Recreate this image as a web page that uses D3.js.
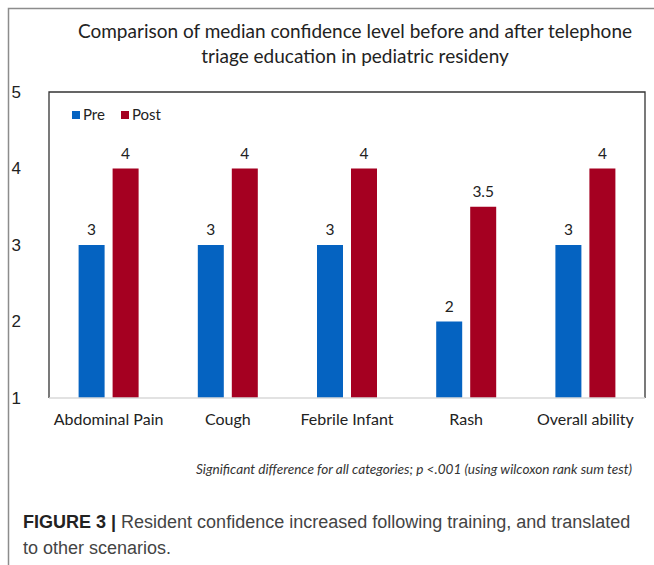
<!DOCTYPE html>
<html>
<head>
<meta charset="utf-8">
<script src="https://cdn.jsdelivr.net/npm/d3@7"></script>
<style>
  body { margin: 0; background: #fff; }
  svg { display: block; }
</style>
</head>
<body>
<svg id="chart" width="654" height="565"></svg>
<script>
// data
const categories = ['Abdominal Pain', 'Cough', 'Febrile Infant', 'Rash', 'Overall ability'];
const series = ['Pre', 'Post'];
const pre = [3, 3, 3, 2, 3];
const post = [4, 4, 4, 3.5, 4];
const yTicks = [1, 2, 3, 4, 5];
const colores = ['#0563C1', '#A50021'];

const titleLines = ['Comparison of median confidence level before and after telephone',
                    'triage education in pediatric resideny'];
const footnote = 'Significant difference for all categories; p <.001 (using wilcoxon rank sum test)';

const svg = d3.select('#chart');
const calibri = 'Lato, "Open Sans", sans-serif';

// outer panel border (left + top only)
svg.append('path')
    .attr('d', 'M8.5,565 V8.5 H654')
    .attr('fill', 'none')
    .attr('stroke', '#8c8c8c')
    .attr('stroke-width', 1.5);

// title
svg.append('g').selectAll('text')
    .data(titleLines).enter()
    .append('text')
    .attr('x', 355)
    .attr('y', (d, i) => 38 + i * 25)
    .attr('text-anchor', 'middle')
    .style('font-family', calibri)
    .style('font-size', '19px')
    .style('fill', '#222')
    .text(d => d);

const pLeft = 49, pRight = 645, pTop = 92, pBottom = 398;

const x = d3.scaleBand().domain(categories).range([pLeft, pRight]);
const y = d3.scaleLinear().domain([1, 5]).range([pBottom, pTop]);

const barW = 26, gap = 8;

// plot frame
svg.append('path')
    .attr('d', 'M' + pLeft + ',' + pBottom + ' V' + pTop + ' H' + pRight + ' V' + pBottom)
    .attr('fill', 'none')
    .attr('stroke', '#333')
    .attr('stroke-width', 1.3);

// y axis (labels only)
let yAxis = d3.axisLeft(y).tickValues(yTicks).tickSize(0).tickPadding(0).tickFormat(d3.format('d'));
let gy = svg.append('g')
    .attr('transform', 'translate(21,0)')
    .call(yAxis);
gy.select('.domain').remove();
gy.selectAll('text')
    .style('font-family', '"Liberation Sans", Arial, sans-serif')
    .style('font-size', '17px')
    .style('fill', '#222');

// bars
const table = categories.map((c, i) => ({cat: c, vals: [pre[i], post[i]]}));

let bars = svg.append('g').attr('id', 'bars');
table.forEach(function (row) {
    const cx = x(row.cat) + x.bandwidth() / 2;
    row.vals.forEach(function (v, j) {
        const bx = j == 0 ? cx - gap / 2 - barW : cx + gap / 2;
        bars.append('rect')
            .attr('x', bx)
            .attr('y', y(v))
            .attr('width', barW)
            .attr('height', y(1) - y(v))
            .attr('fill', colores[j]);
        bars.append('text')
            .attr('x', bx + barW / 2)
            .attr('y', y(v) - 10)
            .attr('text-anchor', 'middle')
            .style('font-family', calibri)
            .style('font-size', '15.5px')
            .style('fill', '#222')
            .text(v);
    });
});

// baseline
svg.append('line')
    .attr('x1', pLeft).attr('x2', pRight)
    .attr('y1', pBottom).attr('y2', pBottom)
    .attr('stroke', '#d9d9d9')
    .attr('stroke-width', 1.5);

// x axis
let xAxis = d3.axisBottom(x).tickSize(0).tickPadding(0);
let gx = svg.append('g')
    .attr('transform', 'translate(0,' + (pBottom + 16) + ')')
    .call(xAxis);
gx.select('.domain').remove();
gx.selectAll('text')
    .style('font-family', calibri)
    .style('font-size', '16px')
    .style('fill', '#222');

// legend
let legend = svg.append('g').attr('transform', 'translate(72,111)');
let lx = 0;
series.forEach(function (s, i) {
    legend.append('rect').attr('x', lx).attr('y', 0).attr('width', 8).attr('height', 8).attr('fill', colores[i]);
    legend.append('text').attr('x', lx + 11).attr('y', 9)
        .style('font-family', calibri).style('font-size', '15px').style('fill', '#222')
        .text(s);
    lx += 49;
});

// footnote
svg.append('text')
    .attr('x', 414)
    .attr('y', 474)
    .attr('text-anchor', 'middle')
    .style('font-family', calibri)
    .style('font-style', 'italic')
    .style('font-size', '13.6px')
    .style('fill', '#333')
    .text(footnote);

// caption
let cap = svg.append('text')
    .attr('x', 23)
    .attr('y', 528)
    .style('font-family', '"Liberation Sans", Arial, sans-serif')
    .style('font-size', '18px')
    .style('fill', '#444');
cap.append('tspan').style('font-weight', 'bold').style('fill', '#222').text('FIGURE 3 | ');
cap.append('tspan').text('Resident confidence increased following training, and translated');
svg.append('text')
    .attr('x', 23)
    .attr('y', 554)
    .style('font-family', '"Liberation Sans", Arial, sans-serif')
    .style('font-size', '18px')
    .style('fill', '#444')
    .text('to other scenarios.');
</script>
</body>
</html>
